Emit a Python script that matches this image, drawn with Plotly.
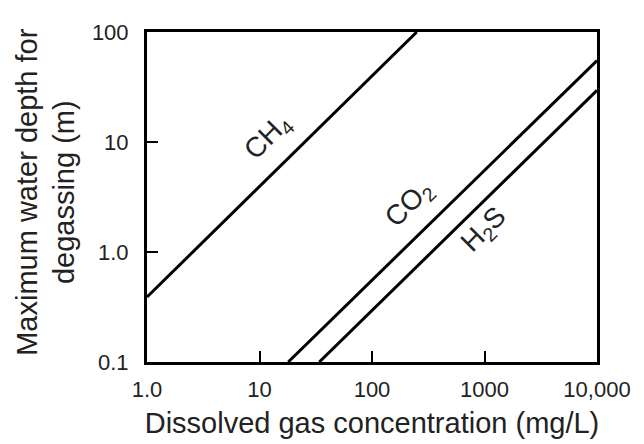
import math
import plotly.graph_objects as go

# Data (endpoints of straight lines on log-log axes)
ch4_x = [1.0, 250]
ch4_y = [0.39, 100]
co2_x = [18, 10000]
co2_y = [0.1, 55]
h2s_x = [34, 10000]
h2s_y = [0.1, 29.5]

x_tickvals = [1, 10, 100, 1000, 10000]
x_ticktext = ["1.0", "10", "100", "1000", "10,000"]
y_tickvals = [0.1, 1, 10, 100]
y_ticktext = ["0.1", "1.0", "10", "100"]

labels = ["CH<sub>4</sub>", "CO<sub>2</sub>", "H<sub>2</sub>S"]
label_x = [12, 216, 1000]
label_y = [10.9, 2.71, 1.56]

x_title = "Dissolved gas concentration (mg/L)"
y_title = "Maximum water depth for<br>degassing (m)"

FONT = "Liberation Sans, Arial, sans-serif"
TXT = "#222222"

fig = go.Figure()
for xs, ys in [(ch4_x, ch4_y), (co2_x, co2_y), (h2s_x, h2s_y)]:
    fig.add_trace(go.Scatter(x=xs, y=ys, mode="lines",
                             line=dict(color="black", width=3),
                             showlegend=False, hoverinfo="skip"))

for t, lx, ly in zip(labels, label_x, label_y):
    fig.add_annotation(x=math.log10(lx), y=math.log10(ly), xref="x", yref="y",
                       text=t, showarrow=False, textangle=-45,
                       font=dict(family=FONT, size=28, color=TXT))

# y-axis title placed as a rotated annotation for precise positioning
fig.add_annotation(x=-0.225, y=0.515, xref="paper", yref="paper",
                   xanchor="center", yanchor="middle",
                   text=y_title, showarrow=False, textangle=-90,
                   font=dict(family=FONT, size=29, color=TXT))

fig.update_layout(
    width=644, height=444,
    margin=dict(l=139, r=55, t=15, b=90),
    paper_bgcolor="white", plot_bgcolor="white",
    font=dict(family=FONT, color=TXT),
    showlegend=False,
)
fig.update_xaxes(type="log", range=[0, 4], tickvals=x_tickvals, ticktext=x_ticktext,
                 ticks="inside", ticklen=11, tickwidth=2, tickcolor="black",
                 showline=True, linewidth=3, linecolor="black", mirror=True,
                 showgrid=False, zeroline=False, ticklabelstandoff=6,
                 tickfont=dict(size=22, color=TXT),
                 title=dict(text=x_title,
                            font=dict(size=29, color=TXT), standoff=12))
fig.update_yaxes(type="log", range=[-1, 2], tickvals=y_tickvals, ticktext=y_ticktext,
                 ticks="inside", ticklen=11, tickwidth=2, tickcolor="black",
                 showline=True, linewidth=3, linecolor="black", mirror=True,
                 showgrid=False, zeroline=False, ticklabelstandoff=11,
                 tickfont=dict(size=22, color=TXT))

fig.write_html("out.html")
